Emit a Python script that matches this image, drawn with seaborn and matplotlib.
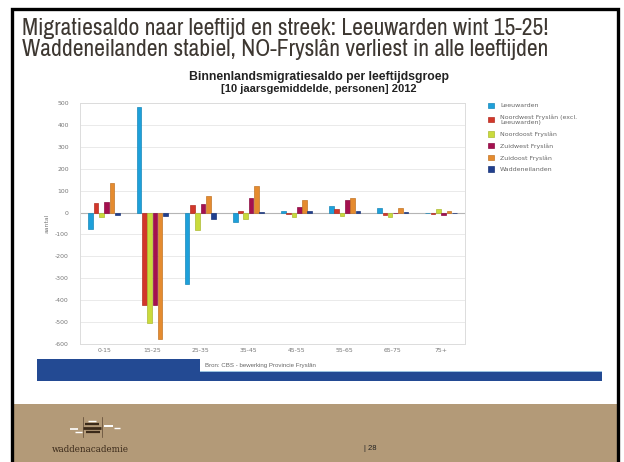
import matplotlib
matplotlib.use("Agg")
import matplotlib.pyplot as plt
import matplotlib.patches as mpatches
from matplotlib import font_manager
import numpy as np
import pandas as pd
import seaborn as sns

# ---------------- data ----------------
age_groups = ["0-15", "15-25", "25-35", "35-45", "45-55", "55-65", "65-75", "75+"]
regions = ["Leeuwarden", "Noordwest Fryslân (excl.\nLeeuwarden)", "Noordoost Fryslân",
           "Zuidwest Fryslân", "Zuidoost Fryslân", "Waddeneilanden"]
leeuwarden = [-75, 480, -325, -45, 9, 29, 20, -3]
noordwest = [45, -420, 35, 5, -7, 14, -10, -5]
noordoost = [-20, -505, -80, -30, -20, -15, -20, 18]
zuidwest = [50, -420, 40, 68, 27, 57, -3, -10]
zuidoost = [135, -575, 75, 120, 57, 65, 20, 8]
waddeneilanden = [-10, -15, -30, 3, 7, 5, 2, 0]
yticks = [500, 400, 300, 200, 100, 0, -100, -200, -300, -400, -500, -600]

series = [leeuwarden, noordwest, noordoost, zuidwest, zuidoost, waddeneilanden]
colors = ["#1ea0da", "#d2372a", "#cadb3c", "#a5104f", "#e58b2f", "#213f8e"]

rows = []
for reg, vals in zip(regions, series):
    for ag, v in zip(age_groups, vals):
        rows.append({"leeftijd": ag, "streek": reg, "saldo": v})
df = pd.DataFrame(rows)

# ---------------- figure ----------------
W, H = 624, 462
fig = plt.figure(figsize=(W / 100, H / 100), dpi=100)
fig.patch.set_facecolor("white")


def fx(x):
    return x / W


def fy(y):
    return 1 - y / H


# slide frame and footer
fig.patches.append(mpatches.Rectangle((fx(12), fy(462)), fx(605), (462 - 404) / H,
                                      transform=fig.transFigure, facecolor="#b39a78",
                                      edgecolor="none", zorder=0))
fig.patches.append(mpatches.Rectangle((fx(11.5), fy(470)), fx(606.5), (470 - 8.5) / H,
                                      transform=fig.transFigure, facecolor="none", edgecolor="black",
                                      linewidth=2.4, zorder=5))
# blue band with source box
fig.patches.append(mpatches.Rectangle((fx(37), fy(381)), fx(565), 22 / H,
                                      transform=fig.transFigure, facecolor="#234a93",
                                      edgecolor="none", zorder=1))
fig.patches.append(mpatches.Rectangle((fx(200), fy(371)), fx(402), 12 / H,
                                      transform=fig.transFigure, facecolor="white",
                                      edgecolor="none", zorder=1))
fig.patches.append(mpatches.Rectangle((fx(200), fy(372)), fx(402), 1.2 / H,
                                      transform=fig.transFigure, facecolor="#9cc3e0",
                                      edgecolor="none", zorder=1))
fig.text(fx(205), fy(365.5), "Bron: CBS - bewerking Provincie Fryslân", fontsize=4.4,
         color="#666666", va="center", ha="left", family="Liberation Sans")

# titles: prefer a narrow / condensed sans if one is installed
narrow = "Liberation Sans"
for fe in font_manager.fontManager.ttflist:
    nm = fe.name
    if ("Narrow" in nm or "Condensed" in nm) and "Mono" not in nm and "Serif" not in nm:
        narrow = nm
        break

t1 = fig.text(fx(22), fy(35), "Migratiesaldo naar leeftijd en streek: Leeuwarden wint 15-25!",
              fontsize=17, color="#3d3731", family=narrow, ha="left", va="baseline")
t2 = fig.text(fx(22), fy(56), "Waddeneilanden stabiel, NO-Fryslân verliest in alle leeftijden",
              fontsize=17, color="#3d3731", family=narrow, ha="left", va="baseline")
c1 = fig.text(fx(319), fy(77), "Binnenlandsmigratiesaldo per leeftijdsgroep", fontsize=6.5,
              weight="bold", color="#222222", family="Liberation Sans", ha="center", va="center")
c2 = fig.text(fx(319), fy(88.5), "[10 jaarsgemiddelde, personen] 2012", fontsize=6.5,
              weight="bold", color="#222222", family="Liberation Sans", ha="center", va="center")

renderer = fig.canvas.get_renderer()


def fit(t, target, maxsize=None):
    w = t.get_window_extent(renderer).width
    s = t.get_fontsize() * target / w
    if maxsize is not None:
        s = min(s, maxsize)
    t.set_fontsize(s)


fit(t1, 583, 17)
fit(t2, 581, 17)
fit(c1, 260)
fit(c2, 195)

# footer texts and logo
fig.text(fx(52), fy(449), "waddenacademie", fontsize=6.3, family="DejaVu Serif",
         color="#3b2a1a", ha="left", va="center", zorder=6)
fig.text(fx(364), fy(449), "| 28", fontsize=5.5, family="Liberation Sans",
         color="#222222", ha="left", va="center", zorder=6)
logo = fig.add_axes([fx(66), fy(438), fx(58), 22 / H], zorder=6)
logo.set_xlim(0, 58)
logo.set_ylim(22, 0)
logo.axis("off")
logo.patch.set_alpha(0)
logo.plot([17, 17], [1, 21], color="#5b4632", lw=0.5)
logo.plot([36, 36], [1, 21], color="#5b4632", lw=0.5)
for (x0, x1, y, c, lw) in [(19, 33, 8, "#3b2a1a", 1.6), (17, 35, 12, "#3b2a1a", 2.0),
                           (20, 34, 16, "#3b2a1a", 1.6), (4, 12, 13, "white", 1.2),
                           (38, 47, 10, "white", 1.4), (48, 54, 12, "white", 1.0),
                           (9, 16, 16, "white", 1.0), (22, 30, 5, "white", 1.0)]:
    logo.plot([x0, x1], [y, y], color=c, lw=lw, solid_capstyle="butt")

# ---------------- chart ----------------
ax = fig.add_axes([fx(80), fy(344), fx(385), 241 / H])
sns.barplot(data=df, x="leeftijd", y="saldo", hue="streek", palette=colors, saturation=1,
            width=0.66, gap=0.12, ax=ax, legend=True, linewidth=0.5, zorder=3)
for p in ax.patches:
    fc = np.array(p.get_facecolor())
    p.set_edgecolor(tuple(np.clip(fc[:3] * 0.85, 0, 1)))

ax.set_ylim(-600, 500)
ax.set_yticks(yticks)
ax.set_yticklabels([str(v) for v in yticks])
ax.set_xlim(-0.5, len(age_groups) - 0.5)
ax.grid(axis="y", color="#e6e6e6", linewidth=0.6, zorder=0)
ax.axhline(0, color="#b5b5b5", linewidth=0.8, zorder=2)
ax.set_axisbelow(True)
for s in ax.spines.values():
    s.set_color("#dcdcdc")
    s.set_linewidth(0.7)
ax.tick_params(axis="both", length=0, labelsize=4.4, labelcolor="#777777")
ax.tick_params(axis="y", pad=8)
ax.tick_params(axis="x", pad=3)
ax.set_xlabel("")
ax.set_ylabel("aantal", fontsize=4.4, color="#777777", labelpad=4)

handles, labels = ax.get_legend_handles_labels()
ax.legend(handles, labels, loc="upper left", bbox_to_anchor=(fx(485), fy(100)),
          bbox_transform=fig.transFigure, frameon=False, fontsize=4.5,
          labelcolor="#666666", handlelength=1.0, handleheight=0.9,
          handletextpad=1.0, labelspacing=0.95, borderaxespad=0)

fig.savefig("out.png", dpi=100)
